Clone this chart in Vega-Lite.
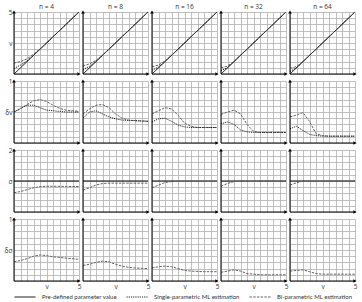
{
"$schema": "https://vega.github.io/schema/vega-lite/v6.json",
"padding": {"left": 4, "top": 3, "right": 3, "bottom": 0},
"spacing": 0,
"data": {"values": [
{"n":4,"r":"v","s":"P","v":0,"y":0},{"n":4,"r":"v","s":"P","v":5,"y":5},
{"n":8,"r":"v","s":"P","v":0,"y":0},{"n":8,"r":"v","s":"P","v":5,"y":5},
{"n":16,"r":"v","s":"P","v":0,"y":0},{"n":16,"r":"v","s":"P","v":5,"y":5},
{"n":32,"r":"v","s":"P","v":0,"y":0},{"n":32,"r":"v","s":"P","v":5,"y":5},
{"n":64,"r":"v","s":"P","v":0,"y":0},{"n":64,"r":"v","s":"P","v":5,"y":5},
{"n":4,"r":"v","s":"B","v":0,"y":0.88},{"n":4,"r":"v","s":"B","v":0.5,"y":1.0},{"n":4,"r":"v","s":"B","v":1,"y":1.22},{"n":4,"r":"v","s":"B","v":1.5,"y":1.6},{"n":4,"r":"v","s":"B","v":2,"y":2.03},{"n":4,"r":"v","s":"B","v":2.5,"y":2.5},{"n":4,"r":"v","s":"B","v":5,"y":5},
{"n":4,"r":"v","s":"S","v":0,"y":0.45},{"n":4,"r":"v","s":"S","v":0.5,"y":0.72},{"n":4,"r":"v","s":"S","v":1,"y":1.05},{"n":4,"r":"v","s":"S","v":1.5,"y":1.5},{"n":4,"r":"v","s":"S","v":5,"y":5},
{"n":8,"r":"v","s":"B","v":0,"y":0.65},{"n":8,"r":"v","s":"B","v":0.5,"y":0.82},{"n":8,"r":"v","s":"B","v":1,"y":1.1},{"n":8,"r":"v","s":"B","v":1.5,"y":1.52},{"n":8,"r":"v","s":"B","v":2,"y":2},{"n":8,"r":"v","s":"B","v":5,"y":5},
{"n":8,"r":"v","s":"S","v":0,"y":0.35},{"n":8,"r":"v","s":"S","v":0.5,"y":0.62},{"n":8,"r":"v","s":"S","v":1,"y":1.02},{"n":8,"r":"v","s":"S","v":5,"y":5},
{"n":16,"r":"v","s":"B","v":0,"y":0.58},{"n":16,"r":"v","s":"B","v":0.5,"y":0.72},{"n":16,"r":"v","s":"B","v":1,"y":1.05},{"n":16,"r":"v","s":"B","v":1.5,"y":1.5},{"n":16,"r":"v","s":"B","v":5,"y":5},
{"n":16,"r":"v","s":"S","v":0,"y":0.3},{"n":16,"r":"v","s":"S","v":0.5,"y":0.56},{"n":16,"r":"v","s":"S","v":1,"y":1.0},{"n":16,"r":"v","s":"S","v":5,"y":5},
{"n":32,"r":"v","s":"B","v":0,"y":0.5},{"n":32,"r":"v","s":"B","v":0.5,"y":0.64},{"n":32,"r":"v","s":"B","v":1,"y":1.02},{"n":32,"r":"v","s":"B","v":5,"y":5},
{"n":32,"r":"v","s":"S","v":0,"y":0.26},{"n":32,"r":"v","s":"S","v":0.5,"y":0.52},{"n":32,"r":"v","s":"S","v":1,"y":1.0},{"n":32,"r":"v","s":"S","v":5,"y":5},
{"n":64,"r":"v","s":"B","v":0,"y":0.45},{"n":64,"r":"v","s":"B","v":0.5,"y":0.6},{"n":64,"r":"v","s":"B","v":1,"y":1.01},{"n":64,"r":"v","s":"B","v":5,"y":5},
{"n":64,"r":"v","s":"S","v":0,"y":0.2},{"n":64,"r":"v","s":"S","v":0.5,"y":0.5},{"n":64,"r":"v","s":"S","v":5,"y":5},

{"n":4,"r":"dv","s":"B","v":0,"y":0.5},{"n":4,"r":"dv","s":"B","v":0.5,"y":0.55},{"n":4,"r":"dv","s":"B","v":1,"y":0.62},{"n":4,"r":"dv","s":"B","v":1.5,"y":0.68},{"n":4,"r":"dv","s":"B","v":2,"y":0.7},{"n":4,"r":"dv","s":"B","v":2.5,"y":0.67},{"n":4,"r":"dv","s":"B","v":3,"y":0.61},{"n":4,"r":"dv","s":"B","v":3.5,"y":0.56},{"n":4,"r":"dv","s":"B","v":4,"y":0.53},{"n":4,"r":"dv","s":"B","v":4.5,"y":0.52},{"n":4,"r":"dv","s":"B","v":5,"y":0.51},
{"n":4,"r":"dv","s":"S","v":0,"y":0.5},{"n":4,"r":"dv","s":"S","v":0.5,"y":0.56},{"n":4,"r":"dv","s":"S","v":1,"y":0.61},{"n":4,"r":"dv","s":"S","v":1.5,"y":0.61},{"n":4,"r":"dv","s":"S","v":2,"y":0.57},{"n":4,"r":"dv","s":"S","v":2.5,"y":0.53},{"n":4,"r":"dv","s":"S","v":3,"y":0.52},{"n":4,"r":"dv","s":"S","v":3.5,"y":0.51},{"n":4,"r":"dv","s":"S","v":4,"y":0.5},{"n":4,"r":"dv","s":"S","v":5,"y":0.5},
{"n":8,"r":"dv","s":"B","v":0,"y":0.47},{"n":8,"r":"dv","s":"B","v":0.5,"y":0.55},{"n":8,"r":"dv","s":"B","v":1,"y":0.61},{"n":8,"r":"dv","s":"B","v":1.5,"y":0.62},{"n":8,"r":"dv","s":"B","v":2,"y":0.57},{"n":8,"r":"dv","s":"B","v":2.5,"y":0.47},{"n":8,"r":"dv","s":"B","v":3,"y":0.4},{"n":8,"r":"dv","s":"B","v":3.5,"y":0.37},{"n":8,"r":"dv","s":"B","v":4,"y":0.36},{"n":8,"r":"dv","s":"B","v":5,"y":0.35},
{"n":8,"r":"dv","s":"S","v":0,"y":0.4},{"n":8,"r":"dv","s":"S","v":0.5,"y":0.5},{"n":8,"r":"dv","s":"S","v":1,"y":0.52},{"n":8,"r":"dv","s":"S","v":1.5,"y":0.47},{"n":8,"r":"dv","s":"S","v":2,"y":0.42},{"n":8,"r":"dv","s":"S","v":2.5,"y":0.39},{"n":8,"r":"dv","s":"S","v":3,"y":0.37},{"n":8,"r":"dv","s":"S","v":4,"y":0.36},{"n":8,"r":"dv","s":"S","v":5,"y":0.35},
{"n":16,"r":"dv","s":"B","v":0,"y":0.47},{"n":16,"r":"dv","s":"B","v":0.5,"y":0.52},{"n":16,"r":"dv","s":"B","v":1,"y":0.57},{"n":16,"r":"dv","s":"B","v":1.5,"y":0.55},{"n":16,"r":"dv","s":"B","v":2,"y":0.45},{"n":16,"r":"dv","s":"B","v":2.5,"y":0.32},{"n":16,"r":"dv","s":"B","v":3,"y":0.27},{"n":16,"r":"dv","s":"B","v":3.5,"y":0.25},{"n":16,"r":"dv","s":"B","v":5,"y":0.25},
{"n":16,"r":"dv","s":"S","v":0,"y":0.34},{"n":16,"r":"dv","s":"S","v":0.5,"y":0.39},{"n":16,"r":"dv","s":"S","v":1,"y":0.4},{"n":16,"r":"dv","s":"S","v":1.5,"y":0.35},{"n":16,"r":"dv","s":"S","v":2,"y":0.29},{"n":16,"r":"dv","s":"S","v":2.5,"y":0.26},{"n":16,"r":"dv","s":"S","v":3,"y":0.25},{"n":16,"r":"dv","s":"S","v":5,"y":0.25},
{"n":32,"r":"dv","s":"B","v":0,"y":0.46},{"n":32,"r":"dv","s":"B","v":0.5,"y":0.5},{"n":32,"r":"dv","s":"B","v":1,"y":0.53},{"n":32,"r":"dv","s":"B","v":1.5,"y":0.47},{"n":32,"r":"dv","s":"B","v":2,"y":0.3},{"n":32,"r":"dv","s":"B","v":2.5,"y":0.19},{"n":32,"r":"dv","s":"B","v":3,"y":0.17},{"n":32,"r":"dv","s":"B","v":5,"y":0.17},
{"n":32,"r":"dv","s":"S","v":0,"y":0.31},{"n":32,"r":"dv","s":"S","v":0.5,"y":0.34},{"n":32,"r":"dv","s":"S","v":1,"y":0.3},{"n":32,"r":"dv","s":"S","v":1.5,"y":0.21},{"n":32,"r":"dv","s":"S","v":2,"y":0.18},{"n":32,"r":"dv","s":"S","v":2.5,"y":0.17},{"n":32,"r":"dv","s":"S","v":5,"y":0.17},
{"n":64,"r":"dv","s":"B","v":0,"y":0.42},{"n":64,"r":"dv","s":"B","v":0.5,"y":0.45},{"n":64,"r":"dv","s":"B","v":1,"y":0.49},{"n":64,"r":"dv","s":"B","v":1.5,"y":0.35},{"n":64,"r":"dv","s":"B","v":2,"y":0.15},{"n":64,"r":"dv","s":"B","v":2.5,"y":0.12},{"n":64,"r":"dv","s":"B","v":3,"y":0.11},{"n":64,"r":"dv","s":"B","v":5,"y":0.11},
{"n":64,"r":"dv","s":"S","v":0,"y":0.23},{"n":64,"r":"dv","s":"S","v":0.5,"y":0.27},{"n":64,"r":"dv","s":"S","v":1,"y":0.2},{"n":64,"r":"dv","s":"S","v":1.5,"y":0.14},{"n":64,"r":"dv","s":"S","v":2,"y":0.12},{"n":64,"r":"dv","s":"S","v":2.5,"y":0.11},{"n":64,"r":"dv","s":"S","v":5,"y":0.11},

{"n":4,"r":"s","s":"P","v":0,"y":1},{"n":4,"r":"s","s":"P","v":5,"y":1},
{"n":8,"r":"s","s":"P","v":0,"y":1},{"n":8,"r":"s","s":"P","v":5,"y":1},
{"n":16,"r":"s","s":"P","v":0,"y":1},{"n":16,"r":"s","s":"P","v":5,"y":1},
{"n":32,"r":"s","s":"P","v":0,"y":1},{"n":32,"r":"s","s":"P","v":5,"y":1},
{"n":64,"r":"s","s":"P","v":0,"y":1},{"n":64,"r":"s","s":"P","v":5,"y":1},
{"n":4,"r":"s","s":"B","v":0,"y":0.62},{"n":4,"r":"s","s":"B","v":0.5,"y":0.66},{"n":4,"r":"s","s":"B","v":1,"y":0.72},{"n":4,"r":"s","s":"B","v":1.5,"y":0.78},{"n":4,"r":"s","s":"B","v":2,"y":0.82},{"n":4,"r":"s","s":"B","v":2.5,"y":0.83},{"n":4,"r":"s","s":"B","v":3,"y":0.83},{"n":4,"r":"s","s":"B","v":5,"y":0.82},
{"n":8,"r":"s","s":"B","v":0,"y":0.71},{"n":8,"r":"s","s":"B","v":0.5,"y":0.78},{"n":8,"r":"s","s":"B","v":1,"y":0.87},{"n":8,"r":"s","s":"B","v":1.5,"y":0.92},{"n":8,"r":"s","s":"B","v":2,"y":0.93},{"n":8,"r":"s","s":"B","v":5,"y":0.93},
{"n":16,"r":"s","s":"B","v":0,"y":0.78},{"n":16,"r":"s","s":"B","v":0.5,"y":0.87},{"n":16,"r":"s","s":"B","v":1,"y":0.95},{"n":16,"r":"s","s":"B","v":1.5,"y":0.98},{"n":16,"r":"s","s":"B","v":2,"y":0.99},{"n":16,"r":"s","s":"B","v":5,"y":0.99},
{"n":32,"r":"s","s":"B","v":0,"y":0.83},{"n":32,"r":"s","s":"B","v":0.5,"y":0.92},{"n":32,"r":"s","s":"B","v":1,"y":0.98},{"n":32,"r":"s","s":"B","v":1.5,"y":1.0},{"n":32,"r":"s","s":"B","v":5,"y":1.0},
{"n":64,"r":"s","s":"B","v":0,"y":0.87},{"n":64,"r":"s","s":"B","v":0.5,"y":0.94},{"n":64,"r":"s","s":"B","v":1,"y":1.0},{"n":64,"r":"s","s":"B","v":5,"y":1.0},

{"n":4,"r":"ds","s":"B","v":0,"y":0.31},{"n":4,"r":"ds","s":"B","v":0.5,"y":0.33},{"n":4,"r":"ds","s":"B","v":1,"y":0.36},{"n":4,"r":"ds","s":"B","v":1.5,"y":0.4},{"n":4,"r":"ds","s":"B","v":2,"y":0.42},{"n":4,"r":"ds","s":"B","v":2.5,"y":0.41},{"n":4,"r":"ds","s":"B","v":3,"y":0.39},{"n":4,"r":"ds","s":"B","v":3.5,"y":0.38},{"n":4,"r":"ds","s":"B","v":4,"y":0.37},{"n":4,"r":"ds","s":"B","v":5,"y":0.35},
{"n":8,"r":"ds","s":"B","v":0,"y":0.25},{"n":8,"r":"ds","s":"B","v":0.5,"y":0.27},{"n":8,"r":"ds","s":"B","v":1,"y":0.3},{"n":8,"r":"ds","s":"B","v":1.5,"y":0.32},{"n":8,"r":"ds","s":"B","v":2,"y":0.31},{"n":8,"r":"ds","s":"B","v":2.5,"y":0.27},{"n":8,"r":"ds","s":"B","v":3,"y":0.24},{"n":8,"r":"ds","s":"B","v":3.5,"y":0.22},{"n":8,"r":"ds","s":"B","v":4,"y":0.21},{"n":8,"r":"ds","s":"B","v":5,"y":0.2},
{"n":16,"r":"ds","s":"B","v":0,"y":0.21},{"n":16,"r":"ds","s":"B","v":0.5,"y":0.23},{"n":16,"r":"ds","s":"B","v":1,"y":0.24},{"n":16,"r":"ds","s":"B","v":1.5,"y":0.23},{"n":16,"r":"ds","s":"B","v":2,"y":0.2},{"n":16,"r":"ds","s":"B","v":2.5,"y":0.17},{"n":16,"r":"ds","s":"B","v":3,"y":0.16},{"n":16,"r":"ds","s":"B","v":4,"y":0.15},{"n":16,"r":"ds","s":"B","v":5,"y":0.15},
{"n":32,"r":"ds","s":"B","v":0,"y":0.14},{"n":32,"r":"ds","s":"B","v":0.5,"y":0.16},{"n":32,"r":"ds","s":"B","v":1,"y":0.18},{"n":32,"r":"ds","s":"B","v":1.5,"y":0.16},{"n":32,"r":"ds","s":"B","v":2,"y":0.12},{"n":32,"r":"ds","s":"B","v":2.5,"y":0.11},{"n":32,"r":"ds","s":"B","v":3,"y":0.1},{"n":32,"r":"ds","s":"B","v":5,"y":0.1},
{"n":64,"r":"ds","s":"B","v":0,"y":0.16},{"n":64,"r":"ds","s":"B","v":0.5,"y":0.17},{"n":64,"r":"ds","s":"B","v":1,"y":0.18},{"n":64,"r":"ds","s":"B","v":1.5,"y":0.15},{"n":64,"r":"ds","s":"B","v":2,"y":0.12},{"n":64,"r":"ds","s":"B","v":2.5,"y":0.11},{"n":64,"r":"ds","s":"B","v":5,"y":0.11}
]},
"config": {
  "font": "Open Sans",
  "view": {"stroke": null},
  "axis": {"domain": false, "ticks": false, "grid": true, "gridColor": "#b0b0b0", "gridWidth": 0.8, "gridOpacity": 1, "labelFontSize": 6.5, "labelColor": "#333", "labelFont": "Open Sans", "labelOverlap": false, "labelBound": false, "labelFlush": false, "labelPadding": 2},
  "header": {"labelFontSize": 6.5, "labelColor": "#333", "labelFont": "Open Sans", "labelPadding": 2},
  "legend": {"orient": "bottom", "direction": "horizontal", "symbolType": "stroke", "symbolSize": 440, "symbolStrokeWidth": 1, "labelFontSize": 6, "labelColor": "#333", "labelFont": "Lato", "labelOffset": 6, "columnPadding": 7, "offset": -4, "padding": 0, "labelLimit": 200}
},
"vconcat": [
  {
    "transform": [{"filter": "datum.r === 'v'"}],
    "facet": {"column": {"field": "n", "type": "ordinal", "title": null, "header": {"labelExpr": "'n = ' + datum.value"}}},
    "spacing": 4,
    "bounds": "flush",
    "spec": {
      "width": 65, "height": 62,
      "layer": [
        {"mark": {"type": "line", "strokeWidth": 1},
         "encoding": {
           "x": {"field": "v", "type": "quantitative", "scale": {"domain": [0, 5], "nice": false}, "axis": {"grid": true, "values": [0,0.5,1,1.5,2,2.5,3,3.5,4,4.5,5], "labels": false, "title": null}},
           "y": {"field": "y", "type": "quantitative", "scale": {"domain": [0, 5], "nice": false}, "axis": {"grid": true, "labelOverlap": false, "values": [0,0.5,1,1.5,2,2.5,3,3.5,4,4.5,5], "title": null, "labelExpr": "datum.value == 2.5 ? 'v' : datum.value == 5 ? '5' : ''"}},
           "strokeDash": {"field": "s", "type": "nominal", "scale": {"domain": ["P","S","B"], "range": [[1,0],[1.2,1],[2.5,1.2]]}, "legend": {"title": null, "labelExpr": "datum.label == 'P' ? 'Pre-defined parameter value' : datum.label == 'S' ? 'Single-parametric ML estimation' : 'Bi-parametric ML estimation'"}},
           "color": {"field": "s", "type": "nominal", "scale": {"domain": ["P","S","B"], "range": ["#000000","#222222","#666666"]}, "legend": {"title": null, "labelExpr": "datum.label == 'P' ? 'Pre-defined parameter value' : datum.label == 'S' ? 'Single-parametric ML estimation' : 'Bi-parametric ML estimation'"}}
         }},
        {"transform": [{"aggregate": [{"op": "count", "as": "c"}], "groupby": ["n"]}],
         "mark": {"type": "rule", "color": "#000", "strokeWidth": 1},
         "encoding": {"x": {"datum": 0, "type": "quantitative", "axis": {"grid": true, "values": [0,0.5,1,1.5,2,2.5,3,3.5,4,4.5,5], "labels": false, "title": null}}}},
        {"transform": [{"aggregate": [{"op": "count", "as": "c"}], "groupby": ["n"]}],
         "mark": {"type": "rule", "color": "#000", "strokeWidth": 1},
         "encoding": {"y": {"datum": 0, "type": "quantitative", "axis": {"grid": true, "labelOverlap": false, "values": [0,0.5,1,1.5,2,2.5,3,3.5,4,4.5,5], "title": null, "labelExpr": "datum.value == 2.5 ? 'v' : datum.value == 5 ? '5' : ''"}}}},
        {"transform": [{"aggregate": [{"op": "count", "as": "c"}], "groupby": ["n"]}],
         "mark": {"type": "point", "shape": "triangle-up", "filled": true, "color": "#000", "size": 14, "opacity": 1},
         "encoding": {"x": {"datum": 0, "type": "quantitative", "axis": {"grid": true, "values": [0,0.5,1,1.5,2,2.5,3,3.5,4,4.5,5], "labels": false, "title": null}}, "y": {"datum": 5, "type": "quantitative", "axis": {"grid": true, "labelOverlap": false, "values": [0,0.5,1,1.5,2,2.5,3,3.5,4,4.5,5], "title": null, "labelExpr": "datum.value == 2.5 ? 'v' : datum.value == 5 ? '5' : ''"}}}},
        {"transform": [{"aggregate": [{"op": "count", "as": "c"}], "groupby": ["n"]}],
         "mark": {"type": "point", "shape": "triangle-right", "filled": true, "color": "#000", "size": 14, "opacity": 1},
         "encoding": {"x": {"datum": 5, "type": "quantitative", "axis": {"grid": true, "values": [0,0.5,1,1.5,2,2.5,3,3.5,4,4.5,5], "labels": false, "title": null}}, "y": {"datum": 0, "type": "quantitative", "axis": {"grid": true, "labelOverlap": false, "values": [0,0.5,1,1.5,2,2.5,3,3.5,4,4.5,5], "title": null, "labelExpr": "datum.value == 2.5 ? 'v' : datum.value == 5 ? '5' : ''"}}}}
      ]
    }
  },
  {
    "transform": [{"filter": "datum.r === 'dv'"}],
    "facet": {"column": {"field": "n", "type": "ordinal", "title": null, "header": {"labels": false, "title": null}}},
    "spacing": 4,
    "bounds": "flush",
    "spec": {
      "width": 65, "height": 62,
      "layer": [
        {"mark": {"type": "line", "strokeWidth": 1},
         "encoding": {
           "x": {"field": "v", "type": "quantitative", "scale": {"domain": [0, 5], "nice": false}, "axis": {"grid": true, "values": [0,0.5,1,1.5,2,2.5,3,3.5,4,4.5,5], "labels": false, "title": null}},
           "y": {"field": "y", "type": "quantitative", "scale": {"domain": [0, 1], "nice": false}, "axis": {"grid": true, "labelOverlap": false, "values": [0,0.1,0.2,0.3,0.4,0.5,0.6,0.7,0.8,0.9,1], "title": null, "labelExpr": "datum.value == 0.5 ? 'δv' : datum.value == 1 ? '1' : ''"}},
           "strokeDash": {"field": "s", "type": "nominal", "scale": {"domain": ["P","S","B"], "range": [[1,0],[1.2,1],[2.5,1.2]]}, "legend": {"title": null, "labelExpr": "datum.label == 'P' ? 'Pre-defined parameter value' : datum.label == 'S' ? 'Single-parametric ML estimation' : 'Bi-parametric ML estimation'"}},
           "color": {"field": "s", "type": "nominal", "scale": {"domain": ["P","S","B"], "range": ["#000000","#222222","#666666"]}, "legend": {"title": null, "labelExpr": "datum.label == 'P' ? 'Pre-defined parameter value' : datum.label == 'S' ? 'Single-parametric ML estimation' : 'Bi-parametric ML estimation'"}}
         }},
        {"transform": [{"aggregate": [{"op": "count", "as": "c"}], "groupby": ["n"]}],
         "mark": {"type": "rule", "color": "#000", "strokeWidth": 1},
         "encoding": {"x": {"datum": 0, "type": "quantitative", "axis": {"grid": true, "values": [0,0.5,1,1.5,2,2.5,3,3.5,4,4.5,5], "labels": false, "title": null}}}},
        {"transform": [{"aggregate": [{"op": "count", "as": "c"}], "groupby": ["n"]}],
         "mark": {"type": "rule", "color": "#000", "strokeWidth": 1},
         "encoding": {"y": {"datum": 0, "type": "quantitative", "axis": {"grid": true, "labelOverlap": false, "values": [0,0.1,0.2,0.3,0.4,0.5,0.6,0.7,0.8,0.9,1], "title": null, "labelExpr": "datum.value == 0.5 ? 'δv' : datum.value == 1 ? '1' : ''"}}}},
        {"transform": [{"aggregate": [{"op": "count", "as": "c"}], "groupby": ["n"]}],
         "mark": {"type": "point", "shape": "triangle-up", "filled": true, "color": "#000", "size": 14, "opacity": 1},
         "encoding": {"x": {"datum": 0, "type": "quantitative", "axis": {"grid": true, "values": [0,0.5,1,1.5,2,2.5,3,3.5,4,4.5,5], "labels": false, "title": null}}, "y": {"datum": 1, "type": "quantitative", "axis": {"grid": true, "labelOverlap": false, "values": [0,0.1,0.2,0.3,0.4,0.5,0.6,0.7,0.8,0.9,1], "title": null, "labelExpr": "datum.value == 0.5 ? 'δv' : datum.value == 1 ? '1' : ''"}}}},
        {"transform": [{"aggregate": [{"op": "count", "as": "c"}], "groupby": ["n"]}],
         "mark": {"type": "point", "shape": "triangle-right", "filled": true, "color": "#000", "size": 14, "opacity": 1},
         "encoding": {"x": {"datum": 5, "type": "quantitative", "axis": {"grid": true, "values": [0,0.5,1,1.5,2,2.5,3,3.5,4,4.5,5], "labels": false, "title": null}}, "y": {"datum": 0, "type": "quantitative", "axis": {"grid": true, "labelOverlap": false, "values": [0,0.1,0.2,0.3,0.4,0.5,0.6,0.7,0.8,0.9,1], "title": null, "labelExpr": "datum.value == 0.5 ? 'δv' : datum.value == 1 ? '1' : ''"}}}}
      ]
    }
  },
  {
    "transform": [{"filter": "datum.r === 's'"}],
    "facet": {"column": {"field": "n", "type": "ordinal", "title": null, "header": {"labels": false, "title": null}}},
    "spacing": 4,
    "bounds": "flush",
    "spec": {
      "width": 65, "height": 62,
      "layer": [
        {"mark": {"type": "line", "strokeWidth": 1},
         "encoding": {
           "x": {"field": "v", "type": "quantitative", "scale": {"domain": [0, 5], "nice": false}, "axis": {"grid": true, "values": [0,0.5,1,1.5,2,2.5,3,3.5,4,4.5,5], "labels": false, "title": null}},
           "y": {"field": "y", "type": "quantitative", "scale": {"domain": [0, 2], "nice": false}, "axis": {"grid": true, "labelOverlap": false, "values": [0,0.2,0.4,0.6,0.8,1,1.2,1.4,1.6,1.8,2], "title": null, "labelExpr": "datum.value == 1 ? 'σ' : datum.value == 2 ? '2' : ''"}},
           "strokeDash": {"field": "s", "type": "nominal", "scale": {"domain": ["P","S","B"], "range": [[1,0],[1.2,1],[2.5,1.2]]}, "legend": {"title": null, "labelExpr": "datum.label == 'P' ? 'Pre-defined parameter value' : datum.label == 'S' ? 'Single-parametric ML estimation' : 'Bi-parametric ML estimation'"}},
           "color": {"field": "s", "type": "nominal", "scale": {"domain": ["P","S","B"], "range": ["#000000","#222222","#666666"]}, "legend": {"title": null, "labelExpr": "datum.label == 'P' ? 'Pre-defined parameter value' : datum.label == 'S' ? 'Single-parametric ML estimation' : 'Bi-parametric ML estimation'"}}
         }},
        {"transform": [{"aggregate": [{"op": "count", "as": "c"}], "groupby": ["n"]}],
         "mark": {"type": "rule", "color": "#000", "strokeWidth": 1},
         "encoding": {"x": {"datum": 0, "type": "quantitative", "axis": {"grid": true, "values": [0,0.5,1,1.5,2,2.5,3,3.5,4,4.5,5], "labels": false, "title": null}}}},
        {"transform": [{"aggregate": [{"op": "count", "as": "c"}], "groupby": ["n"]}],
         "mark": {"type": "rule", "color": "#000", "strokeWidth": 1},
         "encoding": {"y": {"datum": 0, "type": "quantitative", "axis": {"grid": true, "labelOverlap": false, "values": [0,0.2,0.4,0.6,0.8,1,1.2,1.4,1.6,1.8,2], "title": null, "labelExpr": "datum.value == 1 ? 'σ' : datum.value == 2 ? '2' : ''"}}}},
        {"transform": [{"aggregate": [{"op": "count", "as": "c"}], "groupby": ["n"]}],
         "mark": {"type": "point", "shape": "triangle-up", "filled": true, "color": "#000", "size": 14, "opacity": 1},
         "encoding": {"x": {"datum": 0, "type": "quantitative", "axis": {"grid": true, "values": [0,0.5,1,1.5,2,2.5,3,3.5,4,4.5,5], "labels": false, "title": null}}, "y": {"datum": 2, "type": "quantitative", "axis": {"grid": true, "labelOverlap": false, "values": [0,0.2,0.4,0.6,0.8,1,1.2,1.4,1.6,1.8,2], "title": null, "labelExpr": "datum.value == 1 ? 'σ' : datum.value == 2 ? '2' : ''"}}}},
        {"transform": [{"aggregate": [{"op": "count", "as": "c"}], "groupby": ["n"]}],
         "mark": {"type": "point", "shape": "triangle-right", "filled": true, "color": "#000", "size": 14, "opacity": 1},
         "encoding": {"x": {"datum": 5, "type": "quantitative", "axis": {"grid": true, "values": [0,0.5,1,1.5,2,2.5,3,3.5,4,4.5,5], "labels": false, "title": null}}, "y": {"datum": 0, "type": "quantitative", "axis": {"grid": true, "labelOverlap": false, "values": [0,0.2,0.4,0.6,0.8,1,1.2,1.4,1.6,1.8,2], "title": null, "labelExpr": "datum.value == 1 ? 'σ' : datum.value == 2 ? '2' : ''"}}}}
      ]
    }
  },
  {
    "transform": [{"filter": "datum.r === 'ds'"}],
    "facet": {"column": {"field": "n", "type": "ordinal", "title": null, "header": {"labels": false, "title": null}}},
    "spacing": 4,
    "bounds": "flush",
    "spec": {
      "width": 65, "height": 62,
      "layer": [
        {"mark": {"type": "line", "strokeWidth": 1},
         "encoding": {
           "x": {"field": "v", "type": "quantitative", "scale": {"domain": [0, 5], "nice": false}, "axis": {"grid": true, "labelOverlap": false, "values": [0,0.5,1,1.5,2,2.5,3,3.5,4,4.5,5], "title": null, "labelExpr": "datum.value == 2.5 ? 'v' : datum.value == 5 ? '5' : ''"}},
           "y": {"field": "y", "type": "quantitative", "scale": {"domain": [0, 1], "nice": false}, "axis": {"grid": true, "labelOverlap": false, "values": [0,0.1,0.2,0.3,0.4,0.5,0.6,0.7,0.8,0.9,1], "title": null, "labelExpr": "datum.value == 0.5 ? 'δσ' : datum.value == 1 ? '1' : ''"}},
           "strokeDash": {"field": "s", "type": "nominal", "scale": {"domain": ["P","S","B"], "range": [[1,0],[1.2,1],[2.5,1.2]]}, "legend": {"title": null, "labelExpr": "datum.label == 'P' ? 'Pre-defined parameter value' : datum.label == 'S' ? 'Single-parametric ML estimation' : 'Bi-parametric ML estimation'"}},
           "color": {"field": "s", "type": "nominal", "scale": {"domain": ["P","S","B"], "range": ["#000000","#222222","#666666"]}, "legend": {"title": null, "labelExpr": "datum.label == 'P' ? 'Pre-defined parameter value' : datum.label == 'S' ? 'Single-parametric ML estimation' : 'Bi-parametric ML estimation'"}}
         }},
        {"transform": [{"aggregate": [{"op": "count", "as": "c"}], "groupby": ["n"]}],
         "mark": {"type": "rule", "color": "#000", "strokeWidth": 1},
         "encoding": {"x": {"datum": 0, "type": "quantitative", "axis": {"grid": true, "labelOverlap": false, "values": [0,0.5,1,1.5,2,2.5,3,3.5,4,4.5,5], "title": null, "labelExpr": "datum.value == 2.5 ? 'v' : datum.value == 5 ? '5' : ''"}}}},
        {"transform": [{"aggregate": [{"op": "count", "as": "c"}], "groupby": ["n"]}],
         "mark": {"type": "rule", "color": "#000", "strokeWidth": 1},
         "encoding": {"y": {"datum": 0, "type": "quantitative", "axis": {"grid": true, "labelOverlap": false, "values": [0,0.1,0.2,0.3,0.4,0.5,0.6,0.7,0.8,0.9,1], "title": null, "labelExpr": "datum.value == 0.5 ? 'δσ' : datum.value == 1 ? '1' : ''"}}}},
        {"transform": [{"aggregate": [{"op": "count", "as": "c"}], "groupby": ["n"]}],
         "mark": {"type": "point", "shape": "triangle-up", "filled": true, "color": "#000", "size": 14, "opacity": 1},
         "encoding": {"x": {"datum": 0, "type": "quantitative", "axis": {"grid": true, "labelOverlap": false, "values": [0,0.5,1,1.5,2,2.5,3,3.5,4,4.5,5], "title": null, "labelExpr": "datum.value == 2.5 ? 'v' : datum.value == 5 ? '5' : ''"}}, "y": {"datum": 1, "type": "quantitative", "axis": {"grid": true, "labelOverlap": false, "values": [0,0.1,0.2,0.3,0.4,0.5,0.6,0.7,0.8,0.9,1], "title": null, "labelExpr": "datum.value == 0.5 ? 'δσ' : datum.value == 1 ? '1' : ''"}}}},
        {"transform": [{"aggregate": [{"op": "count", "as": "c"}], "groupby": ["n"]}],
         "mark": {"type": "point", "shape": "triangle-right", "filled": true, "color": "#000", "size": 14, "opacity": 1},
         "encoding": {"x": {"datum": 5, "type": "quantitative", "axis": {"grid": true, "labelOverlap": false, "values": [0,0.5,1,1.5,2,2.5,3,3.5,4,4.5,5], "title": null, "labelExpr": "datum.value == 2.5 ? 'v' : datum.value == 5 ? '5' : ''"}}, "y": {"datum": 0, "type": "quantitative", "axis": {"grid": true, "labelOverlap": false, "values": [0,0.1,0.2,0.3,0.4,0.5,0.6,0.7,0.8,0.9,1], "title": null, "labelExpr": "datum.value == 0.5 ? 'δσ' : datum.value == 1 ? '1' : ''"}}}}
      ]
    }
  }
]
}
